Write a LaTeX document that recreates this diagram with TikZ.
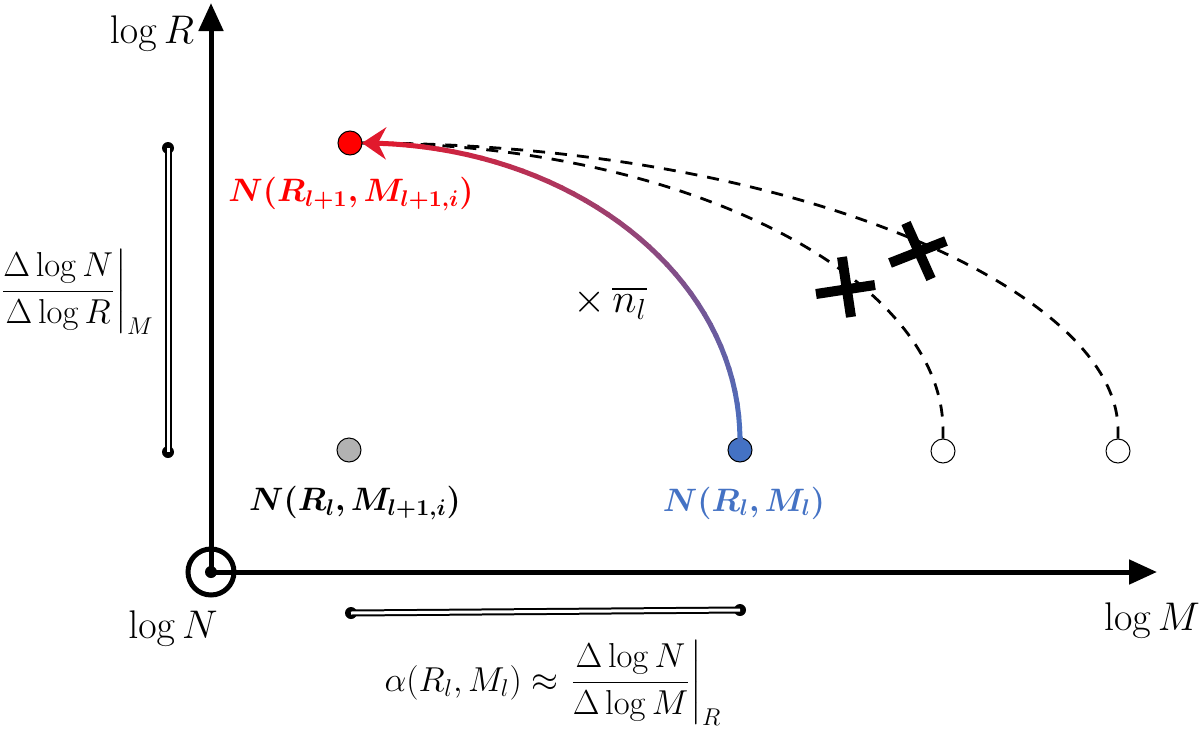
\RequirePackage{fix-cm}
\documentclass[tikz,border=0pt]{standalone}
\usepackage{tikz}
\usetikzlibrary{calc,arrows.meta}
\usepackage{amsmath}
\usepackage{bm}

\definecolor{cblue}{RGB}{68,114,196}
\definecolor{cred}{RGB}{225,25,45}

\tikzset{
  axis/.style={line width=2.5pt, -{Triangle[length=14pt, width=12pt]}},
  axislabel/.style={font=\fontsize{20}{24}\selectfont},
  pointlabel/.style={font=\fontsize{16.2}{20}\selectfont},
  dot/.style={draw, circle, line width=0.5pt, inner sep=0pt, minimum width=12pt, minimum height=11pt},
  guide/.style={dashed, line width=1.4pt, dash pattern=on 6pt off 5pt},
  bar/.style={double, line width=1pt, double distance=1.5pt},
  barend/.style={circle, fill, inner sep=0pt, minimum size=6pt},
  cross/.style={line width=5pt},
  curve/.style={line width=2.5pt, line cap=round}
}

\newcommand\bezpt[2]{% point #2 at t=#1 on the curve
  \pgfmathsetmacro\bu{1-#1}
  \pgfmathsetmacro\bx{\bu^3*740+3*\bu^2*#1*740+3*\bu*#1^2*571+#1^3*362}
  \pgfmathsetmacro\by{\bu^3*440+3*\bu^2*#1*276+3*\bu*#1^2*143+#1^3*143}
  \coordinate (#2) at (\bx,\by);}

\begin{document}
\begin{tikzpicture}[x=0.5pt, y=-0.5pt, font=\fontsize{17.3}{21}\selectfont]
\useasboundingbox (0,0) rectangle (1200,734);

% axes
\coordinate (O) at (211,572);
\draw [axis] (O) -- (211,3);
\draw [axis] (O) -- (1157,572);
\draw [line width=2.5pt] (O) circle (23);
\fill (O) circle (6);
\node [axislabel] (logR) at (152,33) {$\log R$};
\node [axislabel] (logN) at (173,628) {$\log N$};
\node [axislabel] (logM) at (1152,620) {$\log M$};

% points
\node [dot, fill=red] (top) at (350,143) {};
\node [dot, fill=gray!60] (grey) at (349,450) {};
\node [dot, fill=cblue] (cur) at (740,450) {};
\node [dot, fill=white] (w1) at (943,451) {};
\node [dot, fill=white] (w2) at (1118,451) {};

\node [pointlabel, text=red] (toplabel) at (351,194) {$\bm{N(R_{l+1},M_{l+1,i})}$};
\node [pointlabel] (greylabel) at (355,503) {$\bm{N(R_l,M_{l+1,i})}$};
\node [pointlabel, text=cblue] (curlabel) at (744,503) {$\bm{N(R_l,M_l)}$};

% rejected paths
\draw [guide] (w1.north) -- (943,430) .. controls (943,280) and (690,143) .. (362,143);
\draw [guide] (w2.north) -- (1118,430) .. controls (1118,290) and (790,143) .. (362,143);
\draw [cross] (842,257) -- (851,317);
\draw [cross] (816,294) -- (875,285);
\draw [cross] (906,223) -- (931,279);
\draw [cross] (890,263) -- (946,241);

% accepted path, blue to red
\foreach \i in {0,...,40} {
  \pgfmathsetmacro\gt{\i/40}
  \bezpt{\gt}{g\i}
}
\draw [curve, cblue] (cur.north) -- (g0);
\foreach \i [evaluate=\i as \j using int(\i-1), evaluate=\i as \p using int(100-2.5*\i)] in {1,...,39}
  \draw [curve, cblue!\p!cred] (g\j) -- (g\i);
\draw [line width=2.5pt, cred, -{Stealth[length=12pt, width=16pt, inset=4pt]}] (g39) -- (g40);
\node [font=\fontsize{20.7}{25}\selectfont] (factor) at (610,303) {$\times\,\overline{n_l}$};

% ranges
\node [barend] (v1) at (168,148) {};
\node [barend] (v2) at (168,452) {};
\draw [bar] (v1.center) -- (v2.center);
\node (dR) at (76,292) {$\left.\dfrac{\Delta\log N}{\Delta\log R}\right|_M$};

\node [barend] (h1) at (351,613) {};
\node [barend] (h2) at (740,610) {};
\draw [bar] (h1.center) -- (h2.center);
\node (dM) at (553,683) {$\alpha(R_l,M_l)\approx\left.\dfrac{\Delta\log N}{\Delta\log M}\right|_R$};
\end{tikzpicture}
\end{document}
